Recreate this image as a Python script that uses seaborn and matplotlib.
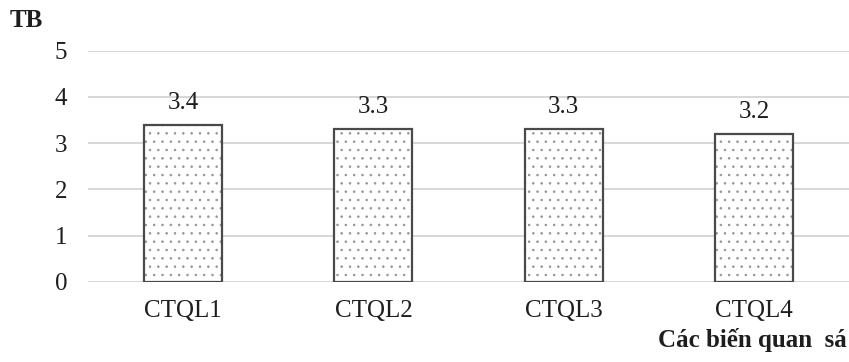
import matplotlib
matplotlib.use("Agg")
import matplotlib.pyplot as plt
import seaborn as sns
import pandas as pd

# Data
categories = ["CTQL1", "CTQL2", "CTQL3", "CTQL4"]
means = [3.4, 3.3, 3.3, 3.2]
y_ticks = [0, 1, 2, 3, 4, 5]

df = pd.DataFrame({"bien": categories, "tb": means})

sns.set_theme(style="white")
plt.rcParams["font.family"] = ["Liberation Serif", "DejaVu Serif"]
plt.rcParams["hatch.linewidth"] = 0.6

text_color = "#1e1e1e"
edge_color = "#4a4a4a"
grid_color = "#d4d4d4"

fig = plt.figure(figsize=(8.49, 3.62), dpi=100)
ax = fig.add_axes([88 / 849, 1 - 281.7 / 362, 1 - 88 / 849, 231 / 362])

# dotted fill
sns.barplot(data=df, x="bien", y="tb", ax=ax, color="white", width=0.41,
            edgecolor="#959595", linewidth=0, hatch="..", saturation=1,
            errorbar=None, zorder=2)
# dark outline on top of the dotted fill
sns.barplot(data=df, x="bien", y="tb", ax=ax, fill=False, width=0.41,
            edgecolor=edge_color, linewidth=1.6, errorbar=None, zorder=3)

ax.bar_label(ax.containers[1], labels=[f"{v:.1f}" for v in means],
             padding=8, fontsize=18, color=text_color)

ax.set_ylim(0, 5)
ax.set_xlim(-0.5, 3.5)
ax.set_yticks(y_ticks)
ax.set_yticklabels([str(t) for t in y_ticks])
ax.yaxis.grid(True, color=grid_color, linewidth=1.3, zorder=0)
ax.set_axisbelow(True)
for s in ax.spines.values():
    s.set_visible(False)
ax.tick_params(axis="x", length=0, pad=13, labelsize=18, colors=text_color)
ax.tick_params(axis="y", length=0, pad=15, labelsize=18, colors=text_color)
ax.set_xlabel("")
ax.set_ylabel("")

fig.text(10 / 849, 1 - 27 / 362, "TB", fontsize=18, fontweight="bold",
         color=text_color, va="baseline", ha="left")
fig.text(847 / 849, 1 - 347 / 362, "Các biến quan  sá", fontsize=18,
         fontweight="bold", color=text_color, va="baseline", ha="right")

fig.savefig("out.png", dpi=100, facecolor="white")
